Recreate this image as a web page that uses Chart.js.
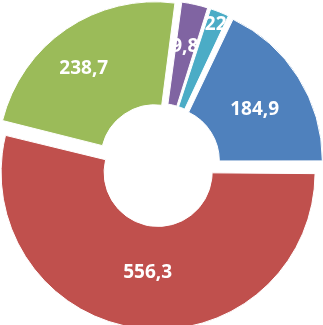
<!DOCTYPE html>
<html lang="en">
<head>
    <meta charset="UTF-8">
    <script src="https://cdn.jsdelivr.net/npm/chart.js"></script>
    <style>
        html, body {
            margin: 0;
            padding: 0;
            background: #fff;
        }

        .chart-container {
            width: 323px;
            height: 325px;
        }
    </style>
    <title>Doughnut</title>
</head>
<body>
    <div class="chart-container">
        <canvas id="donutChart"></canvas>
    </div>
    <script>
        // slice values, clockwise from the top (purple first)
        const labels = ['A', 'B', 'C', 'D', 'E'];
        const values = [29.8, 22.1, 184.9, 556.3, 238.7];
        const colors = ['#8064A2', '#4BACC6', '#4F81BD', '#C0504D', '#9BBB59'];

        // every slice is pulled out by the same distance (px)
        const explode = 7.5;
        // where each label sits: across the ring and along the slice
        const labelDepth = [0.64, 0.98, 0.49, 0.51, 0.6];
        const labelAlong = [0.2, 0.9, 0.525, 0.495, 0.457];

        const total = values.reduce((a, b) => a + b, 0);
        const fontSize = 19;

        // chart.js moves an arc by offset/4 and also grows its radii by offset/4 * fix
        function arcFix(circ) {
            return 1 - Math.sin(Math.min(Math.PI, circ));
        }

        // draw slice, then its label, one after another (later slices cover earlier labels)
        const sliceLabels = {
            id: 'sliceLabels',
            beforeDatasetDraw(chart, args) {
                const ctx = chart.ctx;
                args.meta.data.forEach((arc, i) => {
                    const p = arc.getProps(['x', 'y', 'startAngle', 'endAngle', 'innerRadius', 'outerRadius'], true);
                    const d = (arc.options.offset || 0) / 4;
                    const grow = d * arcFix(p.endAngle - p.startAngle);

                    // undo the radius growth so the slice is only shifted out
                    arc.outerRadius = p.outerRadius - grow;
                    arc.innerRadius = p.innerRadius - grow;
                    arc.draw(ctx, chart.chartArea);
                    arc.outerRadius = p.outerRadius;
                    arc.innerRadius = p.innerRadius;

                    const mid = (p.startAngle + p.endAngle) / 2;
                    const ang = p.startAngle + (p.endAngle - p.startAngle) * labelAlong[i];
                    const r = p.innerRadius + (p.outerRadius - p.innerRadius) * labelDepth[i];
                    const x = p.x + Math.cos(mid) * d + Math.cos(ang) * r;
                    const y = p.y + Math.sin(mid) * d + Math.sin(ang) * r;
                    ctx.save();
                    ctx.font = 'bold ' + fontSize + 'px "Open Sans"';
                    ctx.fillStyle = '#fff';
                    ctx.textAlign = 'center';
                    ctx.textBaseline = 'alphabetic';
                    ctx.fillText(values[i].toFixed(1).replace('.', ','), x, y + fontSize * 0.36);
                    ctx.restore();
                });
                return false;
            }
        };

        new Chart(document.getElementById('donutChart'), {
            type: 'doughnut',
            data: {
                labels: labels,
                datasets: [{
                    data: values,
                    backgroundColor: colors,
                    borderColor: '#ffffff',
                    borderWidth: 1,
                    offset: 4 * explode
                }]
            },
            options: {
                responsive: true,
                maintainAspectRatio: false,
                animation: false,
                // the blue slice ends at 3 o'clock
                rotation: 90 - (values[0] + values[1] + values[2]) / total * 360,
                radius: 157,
                cutout: '34.4%',
                layout: {
                    padding: { left: 0, right: 5, top: 5, bottom: 0 }
                },
                plugins: {
                    legend: { display: false },
                    tooltip: { enabled: false }
                }
            },
            plugins: [sliceLabels]
        });
    </script>
</body>
</html>
